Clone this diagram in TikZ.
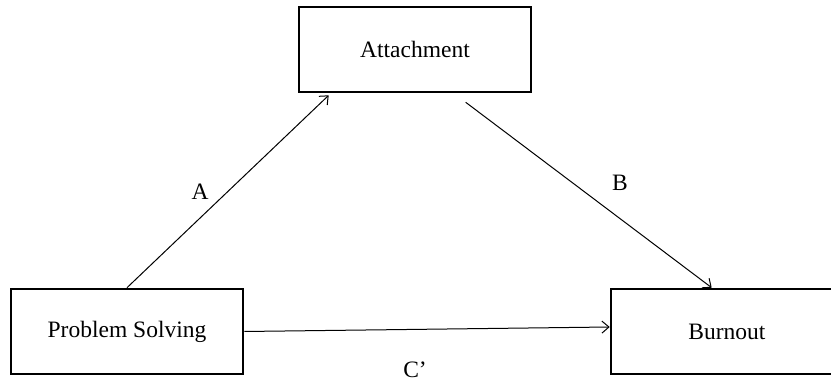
\documentclass[tikz,border=0pt]{standalone}
\usepackage{fontspec}
\setmainfont{Liberation Serif}
\usetikzlibrary{arrows.meta}
\begin{document}
\begin{tikzpicture}[x=1pt,y=-1pt,
  box/.style={draw, line width=2.6pt, minimum width=232pt, minimum height=85pt, inner sep=0pt, font=\fontsize{23.5}{26}\selectfont},
  conn/.style={line width=1pt, -{Straight Barb[length=7pt,width=12pt]}},
  lbl/.style={font=\fontsize{23.5}{26}\selectfont, inner sep=0pt}]
\useasboundingbox (0,0) rectangle (831,387);
\clip (0,0) rectangle (831,387);
\fill[white] (0,0) rectangle (831,387);
\node[box] (att) at (415,49.5) {Attachment};
\node[box] (ps) at (127,331.5) {Problem Solving};
\node[box] (bo) at (727,331.5) {Burnout};
\draw[conn] (ps.north) -- ([xshift=31pt,yshift=-2pt]att.south west);
\draw[conn] ([xshift=168pt,yshift=-9pt]att.south west) -- ([xshift=102pt]bo.north west);
\draw[conn] (ps.east) -- ([yshift=4.5pt]bo.west);
\node[lbl] (la) at (200,192) {A};
\node[lbl] (lb) at (620,183) {B};
\node[lbl] (lc) at (415,370) {C’};
\end{tikzpicture}
\end{document}
